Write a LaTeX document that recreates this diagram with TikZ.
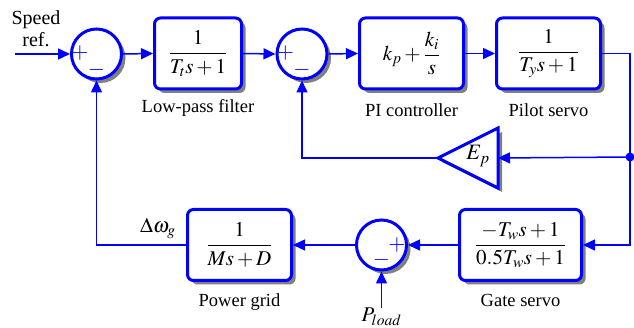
\documentclass[tikz,border=0pt]{standalone}
\usepackage{amsmath}
\usepackage{mathptmx}
\usepackage[no-math]{fontspec}
\setmainfont{Liberation Serif}
\usetikzlibrary{arrows.meta,shadows}

\tikzset{
  shade box/.style={drop shadow={shadow xshift=4pt,shadow yshift=-4pt,fill=black!50,opacity=1}},
  blk/.style={draw=blue, line width=3pt, rounded corners=6pt, fill=white, minimum height=71pt, inner sep=0pt, shade box, font=\fontsize{21}{24}\selectfont},
  sumnode/.style={draw=blue, line width=3pt, circle, fill=white, minimum size=50pt, inner sep=0pt, shade box},
  sig/.style={draw=blue, line width=1.5pt, -{Triangle[length=12pt,width=11pt]}},
  lbl/.style={inner sep=0pt},
  sgn/.style={blue, inner sep=0pt, font=\fontsize{22}{22}\selectfont}
}

\begin{document}
\begin{tikzpicture}[x=1pt,y=-1pt,font=\fontsize{18.5}{22}\selectfont]
\useasboundingbox (0,0) rectangle (634,328);
% blocks of the upper row
\node[sumnode] (sum1) at (96.5,54) {};
\node[blk, minimum width=87pt] (lpf) at (198,53.5) {$\dfrac{1}{T_t s+1}$};
\node[sumnode] (sum2) at (302,54) {};
\node[blk, minimum width=104pt] (pi) at (411.5,53.5) {$k_p+\dfrac{k_i}{s}$};
\node[blk, minimum width=104pt] (pilot) at (548.5,53.5) {$\dfrac{1}{T_y s+1}$};
% blocks of the lower row
\node[blk, minimum width=122pt] (gate) at (520.5,245) {$\dfrac{-T_w s+1}{0.5T_w s+1}$};
\node[sumnode] (sum3) at (381.5,245) {};
\node[blk, minimum width=104pt] (grid) at (239.5,245) {$\dfrac{1}{Ms+D}$};
% droop gain
\coordinate (eptip) at (438,158);
\coordinate (epback) at (498,158);
\draw[blue, line width=3pt, fill=white, shade box] (eptip) -- (498,128) -- (498,188) -- cycle;
\node[lbl, font=\fontsize{22}{24}\selectfont] (ep) at (478,156) {$E_p$};
% signs
\node[sgn] at ([shift={(-16.5,-1)}]sum1.center) {$+$};
\node[sgn] at ([shift={(0,16)}]sum1.center) {$-$};
\node[sgn] at ([shift={(-16.5,-1)}]sum2.center) {$+$};
\node[sgn] at ([shift={(0,16)}]sum2.center) {$-$};
\node[sgn] at ([shift={(15.5,0)}]sum3.center) {$+$};
\node[sgn] at ([shift={(0,15)}]sum3.center) {$-$};
% labels
\node[lbl, align=center, font=\fontsize{20}{22}\selectfont] (ref) at (36,29) {Speed\\ref.};
\node[lbl] (lpflbl) at (198,108) {Low-pass filter};
\node[lbl] (pilbl) at (411.5,110) {PI controller};
\node[lbl] (pilotlbl) at (548.5,110) {Pilot servo};
\node[lbl] (gatelbl) at (520.5,300) {Gate servo};
\node[lbl] (gridlbl) at (239.5,302) {Power grid};
\node[lbl, font=\fontsize{21}{24}\selectfont] (dw) at (158,228) {$\Delta\omega_g$};
\node[lbl, font=\fontsize{21}{24}\selectfont] (pload) at (381.5,317) {$P_{load}$};
% connections
\coordinate (refin) at (15,54);
\coordinate (tap) at (630,157);
\draw[sig] (refin) -- (sum1.west);
\draw[sig] (sum1.east) -- (lpf.west);
\draw[sig] (lpf.east) -- (sum2.west);
\draw[sig] (sum2.east) -- (pi.west);
\draw[sig] (pi.east) -- (pilot.west);
\draw[sig] (pilot.east) -| (tap) |- (gate.east);
\draw[sig] (tap) -- (epback);
\draw[sig] (eptip) -| (sum2.south);
\draw[sig] (gate.west) -- (sum3.east);
\draw[sig] (sum3.west) -- (grid.east);
\draw[sig] (grid.west) -| (sum1.south);
\draw[sig] (pload.north) -- (sum3.south);
\fill[blue] (tap) circle (4.5pt);
\end{tikzpicture}
\end{document}
